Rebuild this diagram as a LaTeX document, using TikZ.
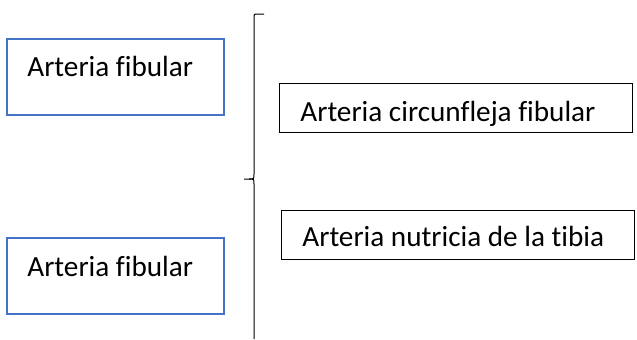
\documentclass[tikz,border=0pt]{standalone}
\usepackage{fontspec}
\setmainfont{Carlito}[Ligatures=NoCommon]
\usepackage{tikz}
\usetikzlibrary{positioning,calc}
\definecolor{boxblue}{HTML}{4472C4}

\tikzset{
  bluebox/.style={draw=boxblue, line width=1pt, minimum width=108.5pt, minimum height=38pt, inner sep=0pt, anchor=north west},
  blackbox/.style={draw=black, line width=0.5pt, minimum width=176.5pt, minimum height=24.5pt, inner sep=0pt, anchor=north west},
  boxtext/.style={anchor=base west, inner sep=0pt, font=\fontsize{14.6}{16}\selectfont},
}

\begin{document}
\begin{tikzpicture}[x=0.5pt, y=-0.5pt]
    \useasboundingbox (0,0) rectangle (637,339);
    % left boxes
    \node[bluebox] (fib1) at (6,38) {};
    \node[bluebox] (fib2) at (6,237) {};
    \node[boxtext] (fib1txt) at ($(fib1.north west)+(21,38)$) {Arteria fibular};
    \node[boxtext] (fib2txt) at ($(fib2.north west)+(21,39)$) {Arteria fibular};
    % right boxes
    \node[blackbox] (circ) at (279,83) {};
    \node[blackbox] (nutr) at (281,210) {};
    \node[boxtext] (circtxt) at ($(circ.north west)+(21,38)$) {Arteria circunfleja fibular};
    \node[boxtext] (nutrtxt) at ($(nutr.north west)+(21,36)$) {Arteria nutricia de la tibia};
    % brace
    \draw[line width=0.5pt] (264,14) -- (258,14) .. controls (254,14) .. (254,18) -- (254,174)
        .. controls (254,179) .. (249,179) -- (244,179);
    \draw[line width=0.5pt] (249,179) .. controls (254,179) .. (254,184) -- (254,339);
\end{tikzpicture}
\end{document}
